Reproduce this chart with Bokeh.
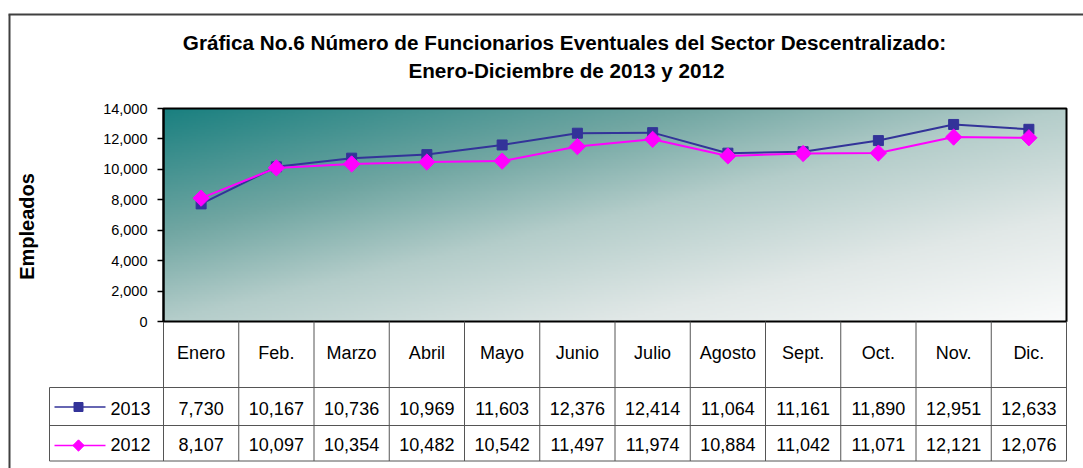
import numpy as np
from bokeh.plotting import figure
from bokeh.models import Range1d, FixedTicker, NumeralTickFormatter, LinearAxis, ColumnDataSource
from bokeh.embed import file_html
from bokeh.resources import INLINE
from bokeh.core.properties import value

# ---------------- data ----------------
months = ["Enero", "Feb.", "Marzo", "Abril", "Mayo", "Junio", "Julio",
          "Agosto", "Sept.", "Oct.", "Nov.", "Dic."]
emp_2013 = [7730, 10167, 10736, 10969, 11603, 12376, 12414, 11064, 11161, 11890, 12951, 12633]
emp_2012 = [8107, 10097, 10354, 10482, 10542, 11497, 11974, 10884, 11042, 11071, 12121, 12076]
series_names = ["2013", "2012"]
y_ticks = [0, 2000, 4000, 6000, 8000, 10000, 12000, 14000]
y_max = 14000
title_1 = "Gráfica No.6 Número de Funcionarios Eventuales del Sector Descentralizado:"
title_2 = "Enero-Diciembre de 2013 y 2012"
y_label = "Empleados"

# ---------------- layout constants (pixels) ----------------
W, H = 1083, 468
PL, PR, PT, PB = 163, 1066, 108, 321          # plot area
COLW = (PR - PL) / len(months)
ROW_Y = [321, 387, 425, 460.5]                 # table row boundaries
LEG_L = 49                                     # left edge of legend column
FONT = "Liberation Sans"
C2013 = "#333399"
C2012 = "#FF00FF"
GRID = "#555555"

n = len(months)
xs = [i + 0.5 for i in range(n)]
px_per_val = (PB - PT) / y_max

def colx(px):
    return (px - PL) / COLW

p = figure(width=W, height=H,
           x_range=Range1d(colx(0), colx(W)),
           y_range=Range1d(-(H - PB) / px_per_val, PB / px_per_val),
           x_axis_type=None, y_axis_type=None,
           output_backend="svg", toolbar_location=None,
           min_border_left=0, min_border_right=0, min_border_top=0, min_border_bottom=0)
p.extra_x_ranges = {"px": Range1d(0, W)}
p.extra_y_ranges = {"px": Range1d(H, 0)}
p.background_fill_color = "white"
p.border_fill_color = "white"
p.outline_line_color = None
p.grid.visible = False

# outer chart border (top + left visible)
p.segment(x0=[9, 8], y0=[14, 14], x1=[9, W], y1=[H, 14], line_color="#404040", line_width=2,
          x_range_name="px", y_range_name="px")

# titles
p.text(x=[564, 566], y=[41.5, 69.5], text=[title_1, title_2], text_align="center",
       text_baseline="middle", text_font=value(FONT), text_font_size="20.7px",
       text_font_style="bold", text_color="black", x_range_name="px", y_range_name="px")
p.text(x=[26], y=[226], text=[y_label], angle=np.pi / 2, text_align="center",
       text_baseline="middle", text_font=value(FONT), text_font_size="20px",
       text_font_style="bold", text_color="black", x_range_name="px", y_range_name="px")

# gradient plot-area background
GH, GW = 120, 400
u = np.linspace(0, 1, GW)[None, :]
v = 1 - np.linspace(0, 1, GH)[:, None]
t = (u + v) / 2.0
stops = [0.0, 0.29, 0.5, 0.75, 1.0]
R = np.interp(t, stops, [26, 112, 180, 225, 250])
G = np.interp(t, stops, [128, 166, 205, 232, 251])
B = np.interp(t, stops, [128, 162, 202, 231, 251])
img = np.empty((GH, GW), dtype=np.uint32)
view = img.view(dtype=np.uint8).reshape((GH, GW, 4))
view[:, :, 0] = R.astype(np.uint8)
view[:, :, 1] = G.astype(np.uint8)
view[:, :, 2] = B.astype(np.uint8)
view[:, :, 3] = 255
p.image_rgba(image=[img], x=0, y=0, dw=n, dh=y_max)

# series
src = ColumnDataSource(dict(x=xs, y13=emp_2013, y12=emp_2012))
p.line("x", "y13", source=src, line_color=C2013, line_width=2)
p.scatter("x", "y13", source=src, marker="square", size=10, fill_color=C2013, line_color=C2013)
p.line("x", "y12", source=src, line_color=C2012, line_width=2)
p.scatter("x", "y12", source=src, marker="square", angle=np.pi / 4, size=11.5,
          fill_color=C2012, line_color=C2012)

# plot-area frame
p.quad(left=[0], right=[n], bottom=[0], top=[y_max], fill_color=None,
       line_color="black", line_width=2)

# y axis
ax = LinearAxis(fixed_location=0, bounds=(0, y_max))
ax.ticker = FixedTicker(ticks=y_ticks)
ax.formatter = NumeralTickFormatter(format="0,0")
ax.axis_line_color = "black"
ax.axis_line_width = 2
ax.major_tick_line_color = "black"
ax.major_tick_line_width = 1.5
ax.major_tick_out = 6
ax.major_tick_in = 0
ax.minor_tick_line_color = None
ax.major_label_standoff = 10
ax.major_label_text_font = FONT
ax.major_label_text_font_size = "14.5px"
ax.major_label_text_color = "black"
p.add_layout(ax, "left")

# ---------------- data table ----------------
r0, r1, r2, r3 = ROW_Y
vx = [float(k) for k in range(n + 1)]
p.segment(x0=vx, y0=[r0] * len(vx), x1=vx, y1=[r3] * len(vx), line_color=GRID, line_width=1,
          y_range_name="px")
lx = colx(LEG_L)
p.segment(x0=[lx], y0=[r1], x1=[lx], y1=[r3], line_color=GRID, line_width=1, y_range_name="px")
p.segment(x0=[lx] * 3, y0=[r1, r2, r3], x1=[n] * 3, y1=[r1, r2, r3], line_color=GRID,
          line_width=1, y_range_name="px")

CAT_Y, V13_Y, V12_Y = 352, 407.5, 444
tfont = dict(text_font=value(FONT), text_font_size="18px", text_color="black",
             text_baseline="middle")
p.text(x=xs, y=[CAT_Y] * n, text=months, text_align="center", y_range_name="px", **tfont)
p.text(x=xs, y=[V13_Y] * n, text=[f"{v:,}" for v in emp_2013], text_align="center",
       y_range_name="px", **tfont)
p.text(x=xs, y=[V12_Y] * n, text=[f"{v:,}" for v in emp_2012], text_align="center",
       y_range_name="px", **tfont)

# legend keys inside the table
y13, y12 = 406.5, 445
p.segment(x0=[54, 54], y0=[y13, y12], x1=[105, 105], y1=[y13, y12],
          line_color=[C2013, C2012], line_width=1.5, x_range_name="px", y_range_name="px")
p.scatter(x=[78], y=[y13], marker="square", size=9, fill_color=C2013, line_color=C2013,
          x_range_name="px", y_range_name="px")
p.scatter(x=[78], y=[y12], marker="square", angle=np.pi / 4, size=8, fill_color=C2012,
          line_color=C2012, x_range_name="px", y_range_name="px")
p.text(x=[110, 110], y=[V13_Y, V12_Y], text=series_names, text_align="left",
       x_range_name="px", y_range_name="px", **tfont)

open("out.html", "w").write(file_html(p, INLINE))
